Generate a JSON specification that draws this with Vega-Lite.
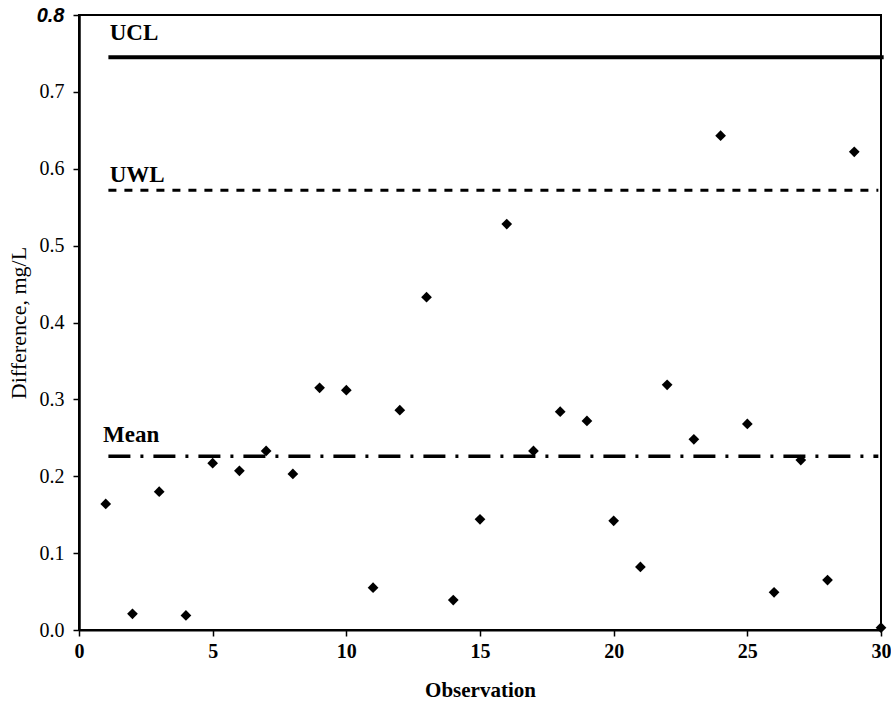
{
  "$schema": "https://vega.github.io/schema/vega-lite/v6.json",
  "width": 802,
  "height": 615,
  "autosize": {"type": "none"},
  "padding": {"left": 79, "top": 15, "right": 10, "bottom": 76},
  "background": "white",
  "config": {
    "view": {"stroke": "black", "strokeWidth": 2},
    "font": "Liberation Serif"
  },
  "datasets": {
    "points": [
      {"obs": 1, "diff": 0.164}, {"obs": 2, "diff": 0.021}, {"obs": 3, "diff": 0.18},
      {"obs": 4, "diff": 0.019}, {"obs": 5, "diff": 0.217}, {"obs": 6, "diff": 0.207},
      {"obs": 7, "diff": 0.233}, {"obs": 8, "diff": 0.203}, {"obs": 9, "diff": 0.315},
      {"obs": 10, "diff": 0.312}, {"obs": 11, "diff": 0.055}, {"obs": 12, "diff": 0.286},
      {"obs": 13, "diff": 0.433}, {"obs": 14, "diff": 0.039}, {"obs": 15, "diff": 0.144},
      {"obs": 16, "diff": 0.528}, {"obs": 17, "diff": 0.233}, {"obs": 18, "diff": 0.284},
      {"obs": 19, "diff": 0.272}, {"obs": 20, "diff": 0.142}, {"obs": 21, "diff": 0.082},
      {"obs": 22, "diff": 0.319}, {"obs": 23, "diff": 0.248}, {"obs": 24, "diff": 0.643},
      {"obs": 25, "diff": 0.268}, {"obs": 26, "diff": 0.049}, {"obs": 27, "diff": 0.221},
      {"obs": 28, "diff": 0.065}, {"obs": 29, "diff": 0.622}, {"obs": 30, "diff": 0.003}
    ],
    "labels": [
      {"label": "UCL", "obs": 1.15, "diff": 0.777},
      {"label": "UWL", "obs": 1.15, "diff": 0.592},
      {"label": "Mean", "obs": 0.9, "diff": 0.254}
    ]
  },
  "layer": [
    {
      "data": {"values": [{"obs": 1.1, "obs2": 30.1, "diff": 0.745}]},
      "mark": {"type": "rule", "stroke": "black", "strokeWidth": 4},
      "encoding": {
        "x": {"field": "obs", "type": "quantitative", "scale": {"domain": [0, 30]}},
        "x2": {"field": "obs2"},
        "y": {"field": "diff", "type": "quantitative", "scale": {"domain": [0, 0.8]}}
      }
    },
    {
      "data": {"values": [{"obs": 1.1, "obs2": 29.9, "diff": 0.572}]},
      "mark": {"type": "rule", "stroke": "black", "strokeWidth": 3, "strokeDash": [8, 8]},
      "encoding": {
        "x": {"field": "obs", "type": "quantitative"},
        "x2": {"field": "obs2"},
        "y": {"field": "diff", "type": "quantitative"}
      }
    },
    {
      "data": {"values": [{"obs": 1.1, "obs2": 29.9, "diff": 0.226}]},
      "mark": {"type": "rule", "stroke": "black", "strokeWidth": 3.5, "strokeDash": [22, 10, 3, 10]},
      "encoding": {
        "x": {"field": "obs", "type": "quantitative"},
        "x2": {"field": "obs2"},
        "y": {"field": "diff", "type": "quantitative"}
      }
    },
    {
      "data": {"name": "labels"},
      "mark": {"type": "text", "align": "left", "baseline": "middle", "fontSize": 23, "fontWeight": "bold", "font": "Liberation Serif", "color": "black"},
      "encoding": {
        "x": {"field": "obs", "type": "quantitative"},
        "y": {"field": "diff", "type": "quantitative"},
        "text": {"field": "label"}
      }
    },
    {
      "data": {"name": "points"},
      "mark": {"type": "point", "shape": "diamond", "filled": true, "color": "black", "size": 115, "opacity": 1},
      "encoding": {
        "x": {
          "field": "obs", "type": "quantitative",
          "scale": {"domain": [0, 30], "nice": false, "zero": true},
          "axis": {
            "title": "Observation", "titleFont": "Liberation Serif", "titleFontSize": 21, "titleFontWeight": "bold", "titleColor": "black", "titlePadding": 18,
            "values": [0, 5, 10, 15, 20, 25, 30], "labelFont": "Liberation Serif", "labelFontSize": 20, "labelFontWeight": "bold", "labelColor": "black", "labelPadding": 5,
            "grid": false, "domainColor": "black", "domainWidth": 2, "tickColor": "black", "tickSize": 6, "tickWidth": 1.5, "labelFlush": false
          }
        },
        "y": {
          "field": "diff", "type": "quantitative",
          "scale": {"domain": [0, 0.8], "nice": false},
          "axis": {
            "title": "Difference, mg/L", "titleFont": "Liberation Serif", "titleFontSize": 22, "titleFontWeight": "normal", "titleColor": "black", "titlePadding": 6,
            "values": [0, 0.1, 0.2, 0.3, 0.4, 0.5, 0.6, 0.7, 0.8], "format": ".1f",
            "labelFont": {"condition": {"test": "datum.value == 0.8", "value": "Liberation Sans"}, "value": "Liberation Serif"},
            "labelFontStyle": {"condition": {"test": "datum.value == 0.8", "value": "italic"}, "value": "normal"},
            "labelFontWeight": {"condition": {"test": "datum.value == 0.8", "value": "bold"}, "value": "normal"},
            "labelFontSize": 20, "labelColor": "black", "labelPadding": 9,
            "grid": false, "domainColor": "black", "domainWidth": 2.5, "tickColor": "black", "tickSize": 6, "tickWidth": 1.5, "labelFlush": false
          }
        }
      }
    }
  ]
}
